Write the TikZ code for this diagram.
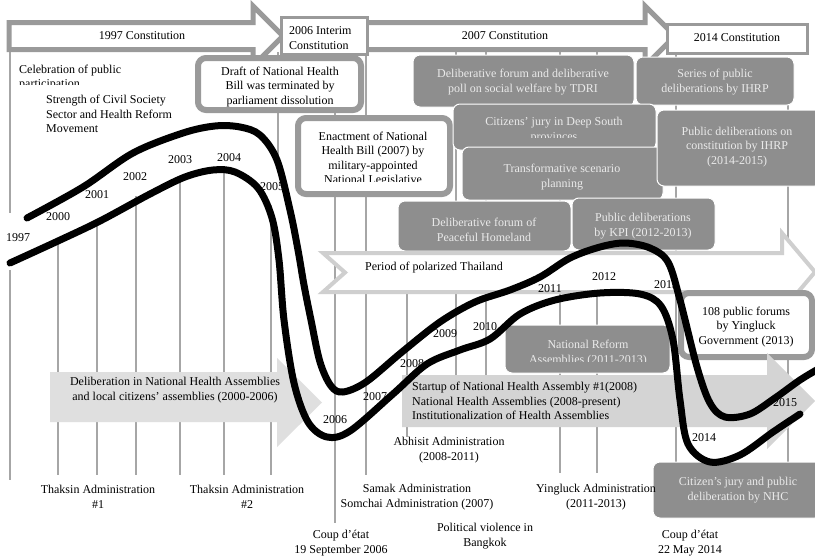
\documentclass[tikz,border=0pt]{standalone}
\usepackage{fontspec}
\setmainfont{Liberation Serif}
\definecolor{bargray}{HTML}{9A9A9A}
\definecolor{boxgray}{HTML}{8E8E8E}
\definecolor{boxtext}{HTML}{EAEAEA}
\definecolor{lightarrow}{HTML}{DFDFDF}
\definecolor{lightarrowb}{HTML}{D4D4D4}
\definecolor{periodgray}{HTML}{CFCFCF}
\definecolor{vline}{HTML}{A6A6A6}
\newcommand\myfs{\fontsize{12}{14.5}\selectfont}
\begin{document}
\begin{tikzpicture}[x=1pt,y=-1pt,
 vln/.style={draw=vline, line width=2pt},
 toparrow/.style={draw=bargray, line width=5pt, fill=white, line join=miter},
 topbox/.style={draw=bargray, line width=3pt, fill=white},
 whitebox/.style={draw=bargray, line width=6pt, fill=white, rounded corners=8pt},
 darkbox/.style={fill=boxgray, draw=white, line width=1pt, rounded corners=7pt},
 txt/.style={font=\myfs, inner sep=0pt, align=center},
 dtxt/.style={txt, text=boxtext},
 yr/.style={font=\myfs, inner sep=0pt},
 curve/.style={line width=7pt, line cap=round, line join=round, black}]
\useasboundingbox (0,0) rectangle (815,560);
\fill[white] (0,0) rectangle (815,560);

% vertical year lines
\draw[vln] (10,52) -- (10,213);
\draw[vln] (10,270) -- (10,480);
\draw[vln] (58,241) -- (58,475);
\draw[vln] (97,222) -- (97,475);
\draw[vln] (136,196) -- (136,475);
\draw[vln] (180,178) -- (180,475);
\draw[vln] (224,171) -- (224,475);
\draw[vln] (271,205) -- (271,475);
\draw[vln] (278,52) -- (278,165);
\draw[vln] (335,52) -- (335,523);
\draw[vln] (366,52) -- (366,475);
\draw[vln] (407,251) -- (407,437);
\draw[vln] (456,52) -- (456,380);
\draw[vln] (486,52) -- (486,380);
\draw[vln] (560,52) -- (560,473);
\draw[vln] (597,52) -- (597,473);
\draw[vln] (676,52) -- (676,473);
\draw[vln] (788,105) -- (788,473);

% top constitution arrows
\draw[toparrow] (9,22.5) -- (253,22.5) -- (253,6) -- (283,36) -- (253,66) -- (253,49.5) -- (9,49.5) -- cycle;
\draw[toparrow] (360,22.5) -- (645,22.5) -- (645,6) -- (675,36) -- (645,66) -- (645,49.5) -- (360,49.5) -- cycle;
\draw[topbox] (281,17) rectangle (367,54);
\draw[topbox] (667,24) rectangle (807,53);
\node[txt] (c1997) at (142,36) {1997 Constitution};
\node[txt, align=left, anchor=west] (c2006) at (289,38) {2006 Interim\\Constitution};
\node[txt] (c2007) at (505,36) {2007 Constitution};
\node[txt] (c2014) at (737,38) {2014 Constitution};

% white bordered boxes
\draw[whitebox] (198,58) rectangle (361,110);
\node[txt] (draft) at (280,87) {Draft of National Health\\Bill was terminated by\\parliament dissolution};
\draw[whitebox] (298,118) rectangle (450,194);
\begin{scope}
\clip (300,120) rectangle (448,181.5);
\node[txt] (enact) at (373,159) {Enactment of National\\Health Bill (2007) by\\military-appointed\\National Legislative};
\end{scope}

% dark boxes
\draw[darkbox] (413,55) rectangle (634,107);
\draw[darkbox] (636,57) rectangle (794,105);
\draw[darkbox] (453,104) rectangle (656,150);
\draw[darkbox] (462,147) rectangle (663,200);
\draw[darkbox] (657,110) rectangle (822,186);
\draw[darkbox] (398,201) rectangle (571,251);
\draw[darkbox] (572,198) rectangle (715,250);
\node[dtxt] (tdri) at (523,82) {Deliberative forum  and deliberative\\poll on social welfare by TDRI};
\node[dtxt] (ihrp) at (715,82) {Series of public\\deliberations by IHRP};
\begin{scope}
\clip (455,106) rectangle (654,137.5);
\node[dtxt] (jury) at (554,130) {Citizens’ jury in Deep South\\provinces};
\end{scope}
\node[dtxt] (scen) at (562,177) {Transformative scenario\\planning};
\node[dtxt] (const) at (737,147) {Public deliberations on\\constitution by IHRP\\(2014-2015)};
\node[dtxt] (peace) at (484,230) {Deliberative forum  of\\Peaceful Homeland};
\node[dtxt] (kpi) at (643,226) {Public deliberations\\by KPI (2012-2013)};

% period arrow
\draw[draw=periodgray, line width=4pt, fill=white, line join=miter] (323,253) -- (782,253) -- (782,233) -- (815,272) -- (782,311) -- (782,292) -- (323,292) -- (345,272.5) -- cycle;
\node[txt, anchor=west] (period) at (365,268) {Period of polarized Thailand};

% national reform
\draw[darkbox] (505,325) rectangle (670,373);
\begin{scope}
\clip (507,327) rectangle (668,361.5);
\node[dtxt] (reform) at (588,353) {National Reform\\Assemblies  (2011-2013)};
\end{scope}

% 108 forums
\draw[whitebox] (681,293) rectangle (812,357);
\node[txt] (forums) at (746,327) {108 public forums\\by Yingluck\\Government (2013)};

% light arrows
\fill[lightarrow] (50,372) -- (277,372) -- (277,358) -- (322,402.5) -- (277,447) -- (277,422) -- (50,422) -- cycle;
\node[txt] (nha1) at (175,390) {Deliberation in National Health Assemblies\\and local citizens’ assemblies (2000-2006)};
\fill[lightarrowb] (402,375) -- (767,375) -- (767,353) -- (815,401) -- (767,449) -- (767,427) -- (402,427) -- cycle;
\node[txt, align=left, anchor=west] (nha2) at (412,401) {Startup of National Health Assembly \#1(2008)\\National Health Assemblies (2008-present)\\Institutionalization of Health Assemblies};

% NHC box
\draw[darkbox] (653,462) rectangle (822,518);
\node[dtxt] (nhc) at (738,490) {Citizen’s jury and public\\deliberation by NHC};

% free texts
\begin{scope}
\clip (0,56) rectangle (200,84);
\node[txt, align=left, anchor=west] (celeb) at (19,77.5) {Celebration of public\\participation};
\end{scope}
\node[txt, align=left, anchor=west] (civil) at (46,114) {Strength of Civil Society\\Sector and Health Reform\\Movement};

% bottom labels
\node[txt] (thak1) at (98,497) {Thaksin Administration\\\#1};
\node[txt] (thak2) at (247,497) {Thaksin Administration\\\#2};
\node[txt] (coup1) at (341,543) {Coup d’état\\19 September 2006};
\node[txt] (samak) at (417,497) {Samak Administration\\Somchai Administration (2007)};
\node[txt] (abhisit) at (449,450) {Abhisit Administration\\(2008-2011)};
\node[txt] (violence) at (485,536) {Political violence in\\Bangkok};
\node[txt] (yingluck) at (596,497) {Yingluck Administration\\(2011-2013)};
\node[txt] (coup2) at (690,543) {Coup d’état\\22 May 2014};

% year labels
\node[yr] (y1997) at (18,238) {1997};
\node[yr] (y2000) at (58,217) {2000};
\node[yr] (y2001) at (97,195) {2001};
\node[yr] (y2002) at (135,177) {2002};
\node[yr] (y2003) at (180,160) {2003};
\node[yr] (y2004) at (229,158) {2004};
\node[yr] (y2005) at (272,187) {2005};
\node[yr] (y2006) at (335,420) {2006};
\node[yr] (y2007) at (375,397) {2007};
\node[yr] (y2008) at (412,364) {2008};
\node[yr] (y2009) at (445,334) {2009};
\node[yr] (y2010) at (485,327) {2010};
\node[yr] (y2011) at (550,289) {2011};
\node[yr] (y2012) at (604,277) {2012};
\node[yr] (y2013) at (666,285) {2013};
\node[yr] (y2014) at (704,438) {2014};
\node[yr] (y2015) at (785,403) {2015};

% curves
\draw[curve] plot[smooth, tension=0.55] coordinates {(10,263) (58,241) (100,221) (150,194) (185,177) (213,170) (235,172) (258,188) (272,218) (279,260) (284,320) (294,383) (308,422) (327,437) (350,431) (393,394) (427,364) (460,350) (490,339) (520,314) (555,300) (600,293) (640,294) (661,306) (673,340) (680,400) (688,444) (710,462) (740,455) (773,432) (800,414)};
\draw[curve] plot[smooth, tension=0.55] coordinates {(27,218) (83,187) (133,153) (183,133) (215,126) (240,127) (260,135) (277,160) (290,210) (298,250) (304,285) (311,320) (320,362) (331,386) (343,392) (366,382) (402,352) (440,322) (475,302) (510,290) (540,277) (570,258) (600,247) (625,243) (650,248) (668,262) (680,300) (697,367) (710,403) (725,417) (750,414) (775,398) (800,380) (820,368)};
\end{tikzpicture}
\end{document}
